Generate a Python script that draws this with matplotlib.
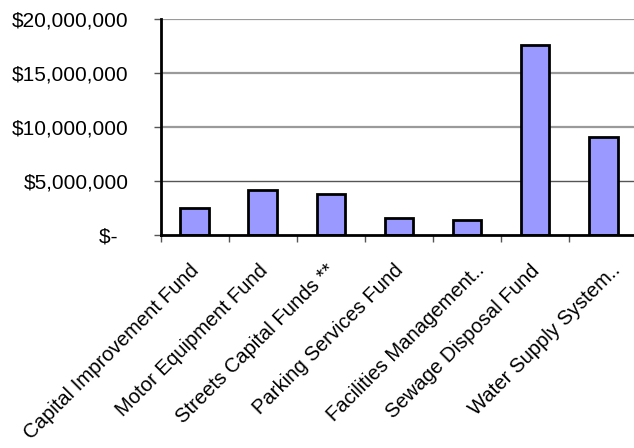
import matplotlib
matplotlib.use("Agg")
import matplotlib.pyplot as plt
import matplotlib.transforms as mtransforms
import numpy as np

plt.rcParams['font.family'] = ['Liberation Sans', 'DejaVu Sans']

# Fund names and amounts
funds = [
    "Capital Improvement Fund",
    "Motor Equipment Fund",
    "Streets Capital Funds **",
    "Parking Services Fund",
    "Facilities Management..",
    "Sewage Disposal Fund",
    "Water Supply System..",
]
amounts = [2520000, 4160000, 3790000, 1570000, 1440000, 17590000, 9110000]

y_ticks = [0, 5000000, 10000000, 15000000, 20000000]
y_labels = ["$-  ", "$5,000,000", "$10,000,000", "$15,000,000", "$20,000,000"]

fig = plt.figure(figsize=(6.34, 4.48), dpi=100)
ax = fig.add_axes([0.2532, 0.4748, 0.752, 0.4828])

x = np.arange(len(funds))
ax.bar(x, amounts, width=0.42, color="#9999FF", edgecolor="black", linewidth=2, zorder=3)

ax.set_xlim(-0.5, len(funds) - 0.5)
ax.set_ylim(0, 20000000)

# gridlines
for v in y_ticks[1:]:
    if v == 5000000:
        ax.axhline(v, color="#555555", lw=1.0, zorder=1)
    else:
        ax.axhline(v, color="#9a9a9a", lw=1.6, zorder=1)

ax.set_yticks(y_ticks)
ax.set_yticklabels(y_labels, fontsize=15)
ax.tick_params(axis="y", length=5, width=1, pad=18, color="#555555")

# category labels at bar centres, small ticks at category borders
ax.set_xticks(x)
ax.set_xticklabels(funds, fontsize=14.6, rotation=45, ha="right", va="baseline",
                   rotation_mode="anchor")
ax.tick_params(axis="x", which="major", length=0, pad=26)
ax.set_xticks(np.arange(0, len(funds)) - 0.5, minor=True)
ax.tick_params(axis="x", which="minor", length=5, width=1, color="#555555")
for lbl in ax.get_xticklabels():
    # truncated names sit a little further right
    dx = 13 if lbl.get_text().endswith("..") else 4
    shift = mtransforms.ScaledTranslation(dx / 72, 0, fig.dpi_scale_trans)
    lbl.set_transform(lbl.get_transform() + shift)

for side in ["top", "right"]:
    ax.spines[side].set_visible(False)
ax.spines["left"].set_linewidth(2)
ax.spines["bottom"].set_linewidth(2)
ax.spines["left"].set_zorder(4)
ax.spines["bottom"].set_zorder(4)

fig.savefig("out.png", dpi=100)
